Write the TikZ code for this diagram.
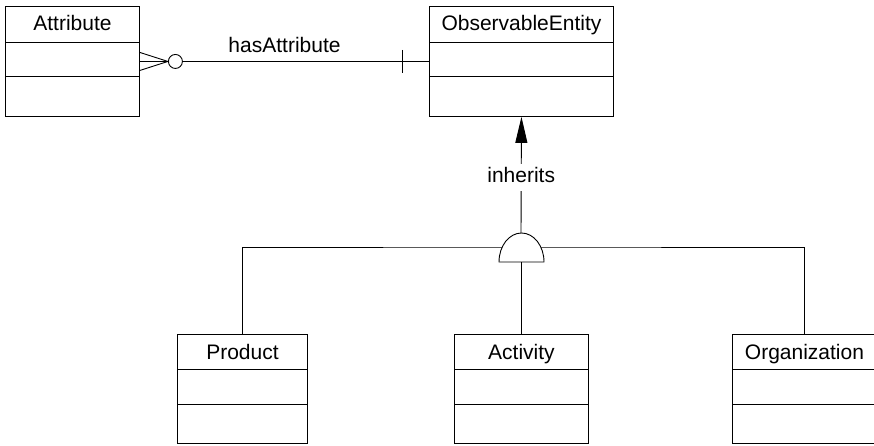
\documentclass[tikz,border=0pt]{standalone}
\usepackage{fontspec}
\setmainfont{Liberation Sans}
\usetikzlibrary{arrows.meta}

% A class box: name, top-left corner, width, height, first and second divider offsets, title
\newcommand\umlclass[7]{%
  \node[classbox, minimum width=#3pt, minimum height=#4pt] (#1) at #2 {};
  \draw ([yshift=-#5pt]#1.north west) -- ([yshift=-#5pt]#1.north east);
  \draw ([yshift=-#6pt]#1.north west) -- ([yshift=-#6pt]#1.north east);
  \node[lbl] (#1-title) at ([yshift=-19.5pt]#1.north) {#7};
}

\begin{document}
\begin{tikzpicture}[x=1pt, y=-1pt, line width=0.9pt,
  classbox/.style={draw, rectangle, inner sep=0pt, anchor=north west},
  lbl/.style={font=\fontsize{21}{24}\selectfont, inner sep=2pt, text height=15pt, text depth=4pt},
  conn/.style={draw, line width=0.9pt},
  ]
\useasboundingbox (0,0) rectangle (874,446);

% classes
\umlclass{attr}{(5,6)}{134}{110}{36}{70}{Attribute}
\umlclass{obs}{(429,6)}{184}{110}{36}{70}{ObservableEntity}
\umlclass{prod}{(177,334)}{130}{109}{35}{70}{Product}
\umlclass{act}{(454,334)}{134}{109}{35}{70}{Activity}
\umlclass{org}{(732,334)}{144}{109}{35}{70}{Organization}

% hasAttribute: many (optional) on Attribute, one on ObservableEntity
\coordinate (cf) at ([xshift=28pt]attr.east);
\draw[conn] ([yshift=9pt]attr.east) -- (cf) -- ([yshift=-9pt]attr.east);
\draw[conn] (attr.east) -- (cf);
\node[draw, circle, minimum size=14pt, inner sep=0pt, line width=0.9pt] (opt) at ([xshift=7.5pt]cf) {};
\draw[conn] (opt.east) -- node[lbl, pos=0.413, yshift=14.5pt] (hasattr) {hasAttribute} (obs.west);
\draw[conn] ([xshift=-27pt,yshift=11.5pt]obs.west) -- ([xshift=-27pt,yshift=-11.5pt]obs.west);

% inheritance tree
\coordinate (bar) at (521,247);
\coordinate (dome) at (521.5,262);
\coordinate (dometop) at (521,233);
\draw[conn] (prod.north) |- (bar) -| (org.north);
\draw[conn, fill=white] ([xshift=-22.5pt]dome) arc[start angle=180, end angle=0, x radius=22.5pt, y radius=29pt] -- cycle;
\draw[conn] (act.north) -- (act.north |- dome);
\draw[conn, -{Triangle[length=26pt, width=12pt]}] (dometop) -- node[lbl, fill=white, inner sep=4pt, pos=0.479] (inh) {inherits} (obs.south);

\end{tikzpicture}
\end{document}
